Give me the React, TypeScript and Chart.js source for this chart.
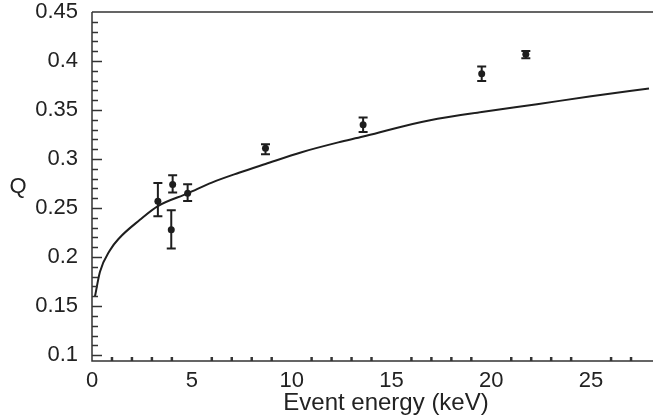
import React, { useEffect, useRef } from "react";
import { Chart, registerables } from "chart.js";
Chart.register(...registerables);

// Model curve Q(E)
const curveEnergy = [0.15, 0.4, 0.9, 1.35, 2.4, 3.3, 4.8, 6.0, 7.36, 8.69, 10.5, 12.34, 13.58, 15.5, 17.31, 19.52, 22.29, 25.0, 27.9];
const curveQ = [0.160, 0.185, 0.207, 0.219, 0.238, 0.252, 0.265, 0.276, 0.286, 0.295, 0.307, 0.317, 0.323, 0.333, 0.341, 0.348, 0.356, 0.364, 0.372];

// Measured points with error bars
const pointEnergy = [3.30, 4.04, 3.97, 4.79, 8.69, 13.58, 19.52, 21.73];
const pointQ = [0.257, 0.274, 0.228, 0.265, 0.311, 0.335, 0.387, 0.407];
const errLow = [0.2416, 0.2658, 0.2087, 0.2572, 0.3048, 0.3276, 0.3796, 0.4027];
const errHigh = [0.2756, 0.2834, 0.2478, 0.2743, 0.3150, 0.3423, 0.3945, 0.4101];

// Tick labels
const yTickValues = [0.1, 0.15, 0.2, 0.25, 0.3, 0.35, 0.4, 0.45];
const yTickLabels = ["0.1", "0.15", "0.2", "0.25", "0.3", "0.35", "0.4", "0.45"];
const xTickValues = [0, 5, 10, 15, 20, 25];
const xTickLabels = ["0", "5", "10", "15", "20", "25"];

const xTitle = "Event energy (keV)";
const yTitle = "Q";

const INK = "#1e1e1e";
const FONT = "'Liberation Sans', Arial, sans-serif";

const framePlugin = {
  id: "frame",
  afterDraw(chart: any) {
    const { ctx, chartArea } = chart;
    const { left, right, top, bottom } = chartArea;
    const xs = chart.scales.x;
    const ys = chart.scales.y;
    ctx.save();
    ctx.strokeStyle = "#333";
    ctx.lineWidth = 1.5;
    ctx.beginPath();
    ctx.moveTo(left, top);
    ctx.lineTo(left, bottom);
    ctx.lineTo(right, bottom);
    ctx.moveTo(left, top);
    ctx.lineTo(right, top);
    ctx.stroke();
    // y ticks inward
    ctx.lineWidth = 1.5;
    for (let i = 10; i <= 44; i++) {
      const v = i / 100;
      const py = Math.round(ys.getPixelForValue(v)) + 0.5;
      const major = i % 5 === 0;
      ctx.beginPath();
      ctx.moveTo(left, py);
      ctx.lineTo(left + (major ? 10 : 6), py);
      ctx.stroke();
    }
    // x ticks inward
    ctx.lineWidth = 2.5;
    for (let i = 1; i <= 27; i++) {
      if (i % 5 === 0) continue;
      const px = xs.getPixelForValue(i);
      ctx.beginPath();
      ctx.moveTo(px, bottom);
      ctx.lineTo(px, bottom - 4);
      ctx.stroke();
    }
    // axis titles
    ctx.fillStyle = "#222";
    ctx.font = `24px ${FONT}`;
    ctx.textAlign = "center";
    ctx.textBaseline = "middle";
    ctx.fillText(xTitle, 386, 403);
    ctx.font = `22px ${FONT}`;
    ctx.fillText(yTitle, 18, 187);
    ctx.restore();
  },
};

const errorBarPlugin = {
  id: "errbars",
  afterDatasetsDraw(chart: any) {
    const { ctx } = chart;
    const xs = chart.scales.x;
    const ys = chart.scales.y;
    ctx.save();
    ctx.strokeStyle = INK;
    ctx.lineWidth = 2;
    for (let i = 0; i < pointEnergy.length; i++) {
      const px = xs.getPixelForValue(pointEnergy[i]);
      const y1 = ys.getPixelForValue(errLow[i]);
      const y2 = ys.getPixelForValue(errHigh[i]);
      ctx.beginPath();
      ctx.moveTo(px, y1);
      ctx.lineTo(px, y2);
      ctx.moveTo(px - 4.5, y1);
      ctx.lineTo(px + 4.5, y1);
      ctx.moveTo(px - 4.5, y2);
      ctx.lineTo(px + 4.5, y2);
      ctx.stroke();
    }
    ctx.restore();
  },
};

export default function App() {
  const ref = useRef<HTMLCanvasElement | null>(null);
  useEffect(() => {
    if (!ref.current) return;
    const chart = new Chart(ref.current, {
      type: "scatter",
      data: {
        datasets: [
          {
            type: "line",
            data: curveEnergy.map((x, i) => ({ x, y: curveQ[i] })),
            borderColor: INK,
            borderWidth: 2,
            pointRadius: 0,
            cubicInterpolationMode: "monotone",
            fill: false,
          } as any,
          {
            data: pointEnergy.map((x, i) => ({ x, y: pointQ[i] })),
            backgroundColor: INK,
            borderColor: INK,
            pointRadius: 3.5,
            borderWidth: 0,
          },
        ],
      },
      options: {
        animation: false,
        responsive: true,
        maintainAspectRatio: false,
        layout: { padding: { top: 12, right: 0, left: 0, bottom: 0 } },
        plugins: { legend: { display: false }, tooltip: { enabled: false } },
        scales: {
          x: {
            type: "linear",
            min: 0,
            max: 28.1,
            grid: { display: false, drawTicks: false },
            border: { display: false },
            afterBuildTicks: (s: any) => {
              s.ticks = xTickValues.map((v) => ({ value: v }));
            },
            afterFit: (s: any) => {
              s.height = 55;
              s.paddingLeft = 0;
              s.paddingRight = 0;
            },
            ticks: {
              padding: 7,
              color: "#222",
              font: { family: FONT, size: 22 },
              maxRotation: 0,
              callback: (v: any) => {
                const i = xTickValues.indexOf(Number(v));
                return i >= 0 ? xTickLabels[i] : "";
              },
            },
          },
          y: {
            type: "linear",
            min: 0.094,
            max: 0.45,
            grid: { display: false, drawTicks: false },
            border: { display: false },
            afterBuildTicks: (s: any) => {
              s.ticks = yTickValues.map((v) => ({ value: v }));
            },
            afterFit: (s: any) => {
              s.width = 92;
              s.paddingTop = 0;
              s.paddingBottom = 0;
            },
            ticks: {
              padding: 14,
              color: "#222",
              font: { family: FONT, size: 22 },
              callback: (v: any) => {
                const i = yTickValues.findIndex((t) => Math.abs(t - Number(v)) < 1e-9);
                return i >= 0 ? yTickLabels[i] : "";
              },
            },
          },
        },
      },
      plugins: [framePlugin, errorBarPlugin],
    });
    return () => chart.destroy();
  }, []);
  return (
    <div style={{ position: "absolute", left: 0, top: 0, width: 657, height: 416, background: "#fff" }}>
      <canvas ref={ref} />
    </div>
  );
}
